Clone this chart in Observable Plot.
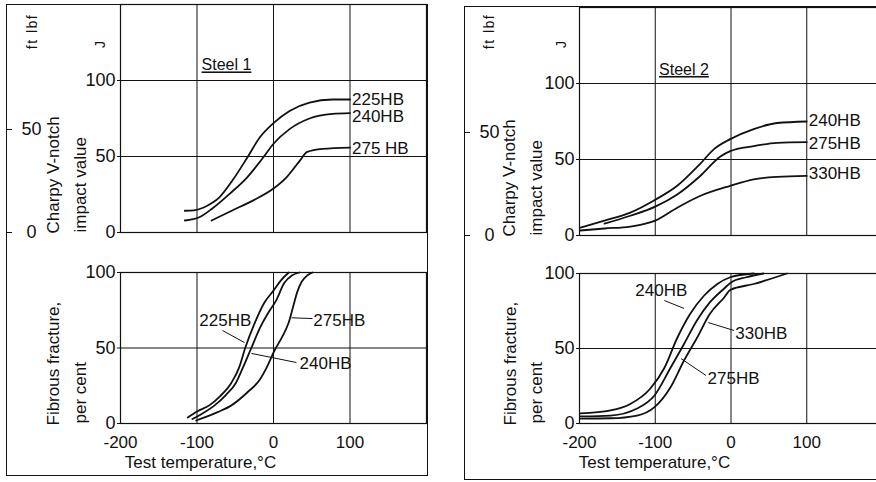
<!DOCTYPE html>
<html><head><meta charset="utf-8">
<script src="https://cdn.jsdelivr.net/npm/d3@7"></script>
<script src="https://cdn.jsdelivr.net/npm/@observablehq/plot@0.6"></script>
<style>
html,body{margin:0;padding:0;background:#fff;}
#wrap{position:relative;width:876px;height:482px;overflow:hidden;background:#fff;font-family:"Liberation Sans",Arial,sans-serif;}
#wrap svg{position:absolute;}
.panel{position:absolute;border:1.6px solid #111;box-sizing:border-box;}
</style></head><body><div id="wrap"></div>
<script>
// ---------- DATA ----------
const J_PER_FTLBF = 1.35582;
const xTicks = [-200, -100, 0, 100];
const gridTemps = [-100, 0, 100];
const impactTicks = [0, 50, 100];
const ftlbfTicks = [0, 50];
const fractureTicks = [0, 50, 100];

// Steel 1 – Charpy V-notch impact value (J)
const s1_imp_225_t = [-116, -104, -92, -80, -71, -54, -35, -18, 0, 21, 47, 77, 100];
const s1_imp_225_v = [14.3, 14.6, 16.3, 19.5, 23, 34, 48.7, 62.5, 72, 80, 85.5, 87.5, 87.5];
const s1_imp_240_t = [-116, -97, -80, -57, -35, -14, 0, 21, 47, 77, 100];
const s1_imp_240_v = [7.9, 10, 15.8, 25.6, 36, 49, 58.4, 68, 75, 78, 78.5];
const s1_imp_275_t = [-81, -54, -27, 0, 17, 34, 44, 64, 100];
const s1_imp_275_v = [7.9, 14.5, 21, 28.9, 36.3, 47, 53, 55, 55.9];
const s1_impLabels = ["225HB", "240HB", "275 HB"];
const s1_impLabelJ = [87.5, 76, 55.3];

// Steel 1 – fibrous fracture (per cent)
const s1_fr_225_t = [-112, -100, -84, -70, -55, -45, -37, -25, -12, 0, 10, 20];
const s1_fr_225_v = [4, 8, 12, 18, 27, 37, 50, 66, 80, 88, 95, 100];
const s1_fr_240_t = [-106, -95, -77, -62, -49, -40, -29, -18, -6, 3, 14, 24, 34];
const s1_fr_240_v = [3, 6, 12, 19, 27, 37, 50, 63, 74, 81, 93, 98, 100];
const s1_fr_275_t = [-101, -90, -73, -55, -34, -18, -8, 1, 12, 20, 26, 31, 37, 44, 51];
const s1_fr_275_v = [2, 4, 7.5, 12, 20.7, 29, 38, 48, 58, 67, 78, 87, 94, 98, 100];
const s1_frLabels = ["225HB", "240HB", "275HB"];
const s1_frLabelT = [-63, 68, 86];
const s1_frLabelP = [68.2, 39.7, 68.2];
const s1_frLeadT1 = [-66.7, -28.8, 23.5];
const s1_frLeadP1 = [61.6, 46.4, 70];
const s1_frLeadT2 = [-37.9, 30, 51];
const s1_frLeadP2 = [53.6, 40.4, 69.5];

// Steel 2 – Charpy V-notch impact value (J)
const s2_imp_240_t = [-199, -167, -133, -100, -71, -41, -22, -1, 30, 61, 100];
const s2_imp_240_v = [5.2, 9.8, 15, 23.5, 32.7, 47, 57, 63.4, 70, 74, 75];
const s2_imp_275_t = [-167, -133, -100, -71, -41, -14, -1, 30, 61, 100];
const s2_imp_275_v = [7.8, 13, 19, 27, 39, 52, 55.5, 58.8, 61, 61.4];
const s2_imp_330_t = [-199, -167, -133, -100, -71, -41, -1, 30, 61, 100];
const s2_imp_330_v = [3.3, 4.6, 5.9, 9.8, 18.3, 26, 32.7, 37, 38.6, 39.2];
const s2_impLabels = ["240HB", "275HB", "330HB"];
const s2_impLabelJ = [75.8, 60.8, 40.5];

// Steel 2 – fibrous fracture (per cent)
const s2_fr_240_t = [-199, -159, -133, -107, -88, -71, -54, -36, -18, -1, 30];
const s2_fr_240_v = [6.7, 8.7, 13, 23, 37, 57, 73, 85, 93, 97.5, 100];
const s2_fr_275_t = [-199, -159, -124, -101, -80, -62, -45, -28, -9, 0, 20, 43];
const s2_fr_275_v = [4.7, 5.3, 10, 18.7, 37, 53, 68.7, 80.7, 90, 94, 97.5, 100];
const s2_fr_330_t = [-199, -159, -124, -101, -80, -62, -45, -28, -9, -1, 30, 74];
const s2_fr_330_v = [3.3, 3.5, 5.3, 10.9, 24, 42, 57, 73, 84, 89, 93, 100];
const s2_frLabels = ["240HB", "330HB", "275HB"];
const s2_frLabelT = [-92, 40, 3.3];
const s2_frLabelP = [88.7, 60, 30];
const s2_frLeadT1 = [-88, -30, -66];
const s2_frLeadP1 = [82, 67.3, 43.3];
const s2_frLeadT2 = [-62, 4, -33];
const s2_frLeadP2 = [76.7, 62, 32];

const steelNames = ["Steel 1", "Steel 2"];
const steelT = [-94, -95];
const steelJ = [110, 109];

const xTitle = "Test temperature,°C";
const impactTitle = ["Charpy V-notch", "impact value"];
const fractureTitle = ["Fibrous fracture,", "per cent"];
const unitFt = "ft lbf";
const unitJ = "J";

// ---------- HELPERS ----------
function rows(list) {
  return list.flatMap(([name, t, v]) => t.map((x, i) => ({name, t: x, v: v[i]})));
}
const INK = "#111";
const FONT = "'Liberation Sans', Arial, sans-serif";
const baseStyle = {background: "transparent", fontFamily: FONT, color: INK, overflow: "visible"};

function gridMarks(yGrid) {
  return [
    Plot.gridX(gridTemps, {stroke: INK, strokeOpacity: 1, strokeWidth: 1}),
    Plot.gridY(yGrid, {stroke: INK, strokeOpacity: 1, strokeWidth: 1}),
    Plot.frame({stroke: INK, strokeWidth: 1.2})
  ];
}

function topPlot(cfg) {
  const data = rows(cfg.series);
  return Plot.plot({
    width: cfg.width, height: 240,
    marginLeft: cfg.ml, marginRight: cfg.mr, marginTop: cfg.mt, marginBottom: 240 - cfg.bottom,
    x: {domain: [-200, 200], axis: null, label: null},
    y: {domain: [0, 150], axis: null, label: null},
    style: baseStyle,
    marks: [
      ...gridMarks([50, 100]),
      Plot.axisY(impactTicks, {anchor: "left", label: null, tickSize: 3, tickPadding: 2, fontSize: 18, tickFormat: d => String(d), stroke: INK, fill: INK}),
      Plot.axisY(ftlbfTicks.map(d => d * J_PER_FTLBF), {anchor: "right", label: null, dx: cfg.ftDx, tickSize: 5, tickPadding: 20, textAnchor: "middle", fontSize: 18, tickFormat: d => String(Math.round(d / J_PER_FTLBF)), stroke: INK, fill: INK}),
      Plot.line(data, {x: "t", y: "v", z: "name", curve: "monotone-x", stroke: INK, strokeWidth: 1.8}),
      Plot.text(cfg.labels, {x: cfg.labels.map(() => 100), y: cfg.labelJ, textAnchor: "start", dx: 2, fontSize: 17, fill: INK}),
      Plot.text([cfg.steel], {x: [cfg.steelT], y: [cfg.steelJ], textAnchor: "start", fontSize: 16, fill: INK}),
      Plot.text([impactTitle[0]], {frameAnchor: "bottom-left", rotate: -90, textAnchor: "start", lineAnchor: "middle", dx: cfg.t1dx, dy: 1, fontSize: 17, fill: INK}),
      Plot.text([impactTitle[1]], {frameAnchor: "bottom-left", rotate: -90, textAnchor: "start", lineAnchor: "middle", dx: cfg.t2dx, dy: 0, fontSize: 17, fill: INK}),
      Plot.text([unitFt], {frameAnchor: "top-left", rotate: -90, textAnchor: "middle", lineAnchor: "middle", dx: cfg.ftx, dy: cfg.fty, fontSize: 14, fill: INK}),
      Plot.text([unitJ], {frameAnchor: "top-left", rotate: -90, textAnchor: "middle", lineAnchor: "middle", dx: cfg.jx, dy: cfg.jy, fontSize: 14, fill: INK})
    ]
  });
}

function bottomPlot(cfg) {
  const data = rows(cfg.series);
  const leads = cfg.lt1.map((d, i) => ({t1: d, p1: cfg.lp1[i], t2: cfg.lt2[i], p2: cfg.lp2[i]}));
  return Plot.plot({
    width: cfg.width, height: 242,
    marginLeft: cfg.ml, marginRight: cfg.mr, marginTop: cfg.mt, marginBottom: 59,
    x: {domain: [-200, 200], axis: null, label: null},
    y: {domain: [0, 100], axis: null, label: null},
    style: baseStyle,
    marks: [
      ...gridMarks([50, 100]),
      Plot.axisY(fractureTicks, {anchor: "left", label: null, tickSize: 3, tickPadding: 2, fontSize: 18, tickFormat: d => String(d), stroke: INK, fill: INK}),
      Plot.axisX(xTicks, {anchor: "bottom", label: null, tickSize: 0, tickPadding: 12, fontSize: 17, tickFormat: d => String(d), fill: INK}),
      Plot.line(data, {x: "t", y: "v", z: "name", curve: "monotone-x", stroke: INK, strokeWidth: 1.8}),
      Plot.link(leads, {x1: "t1", y1: "p1", x2: "t2", y2: "p2", stroke: INK, strokeWidth: 1}),
      Plot.text(cfg.labels, {x: cfg.labelT, y: cfg.labelP, textAnchor: "middle", fontSize: 17, fill: INK}),
      Plot.text([xTitle], {frameAnchor: "bottom-left", textAnchor: "middle", dx: cfg.xtdx, dy: 44, fontSize: 17, fill: INK}),
      Plot.text([fractureTitle[0]], {frameAnchor: "bottom-left", rotate: -90, textAnchor: "start", lineAnchor: "middle", dx: cfg.t1dx, dy: 2, fontSize: 17, fill: INK}),
      Plot.text([fractureTitle[1]], {frameAnchor: "bottom-left", rotate: -90, textAnchor: "start", lineAnchor: "middle", dx: cfg.t2dx, dy: 0, fontSize: 17, fill: INK})
    ]
  });
}

const wrap = document.getElementById("wrap");
function place(svg, left, top) {
  svg.style.left = left + "px";
  svg.style.top = top + "px";
  svg.style.maxWidth = "none";
  wrap.appendChild(svg);
  const sel = d3.select(svg);
  sel.selectAll("text").filter(function () { return this.textContent.startsWith("Steel"); })
    .style("text-decoration", "underline");
  sel.selectAll("text").filter(function () { return this.textContent === unitFt; })
    .style("letter-spacing", "1.5px");
}

place(topPlot({
  width: 440, ml: 120, mr: 14, mt: 4, bottom: 232, ftDx: -420,
  series: [["225", s1_imp_225_t, s1_imp_225_v], ["240", s1_imp_240_t, s1_imp_240_v], ["275", s1_imp_275_t, s1_imp_275_v]],
  labels: s1_impLabels, labelJ: s1_impLabelJ,
  steel: steelNames[0], steelT: steelT[0], steelJ: steelJ[0],
  t1dx: -67, t2dx: -40, ftx: -88, fty: 27, jx: -20, jy: 40
}), 0, 0);

place(bottomPlot({
  width: 440, ml: 120, mr: 14, mt: 32, xtdx: 80, t1dx: -67, t2dx: -40,
  series: [["225", s1_fr_225_t, s1_fr_225_v], ["240", s1_fr_240_t, s1_fr_240_v], ["275", s1_fr_275_t, s1_fr_275_v]],
  labels: s1_frLabels, labelT: s1_frLabelT, labelP: s1_frLabelP,
  lt1: s1_frLeadT1, lp1: s1_frLeadP1, lt2: s1_frLeadT2, lp2: s1_frLeadP2
}), 0, 240);

place(topPlot({
  width: 446, ml: 143, mr: 0, mt: 7, bottom: 235, ftDx: -418,
  series: [["240", s2_imp_240_t, s2_imp_240_v], ["275", s2_imp_275_t, s2_imp_275_v], ["330", s2_imp_330_t, s2_imp_330_v]],
  labels: s2_impLabels, labelJ: s2_impLabelJ,
  steel: steelNames[1], steelT: steelT[1], steelJ: steelJ[1],
  t1dx: -70, t2dx: -43, ftx: -90, fty: 24, jx: -18, jy: 37
}), 436, 0);

place(bottomPlot({
  width: 446, ml: 143, mr: 0, mt: 33, xtdx: 75, t1dx: -69, t2dx: -43,
  series: [["240", s2_fr_240_t, s2_fr_240_v], ["275", s2_fr_275_t, s2_fr_275_v], ["330", s2_fr_330_t, s2_fr_330_v]],
  labels: s2_frLabels, labelT: s2_frLabelT, labelP: s2_frLabelP,
  lt1: s2_frLeadT1, lp1: s2_frLeadP1, lt2: s2_frLeadT2, lp2: s2_frLeadP2
}), 436, 240);

// panel frames
function panel(l, t, w, h) {
  const d = document.createElement("div");
  d.className = "panel";
  Object.assign(d.style, {left: l + "px", top: t + "px", width: w + "px", height: h + "px"});
  wrap.appendChild(d);
}
panel(5.5, 3.5, 422, 472);
panel(463.5, 6, 440, 473.5);
</script></body></html>
